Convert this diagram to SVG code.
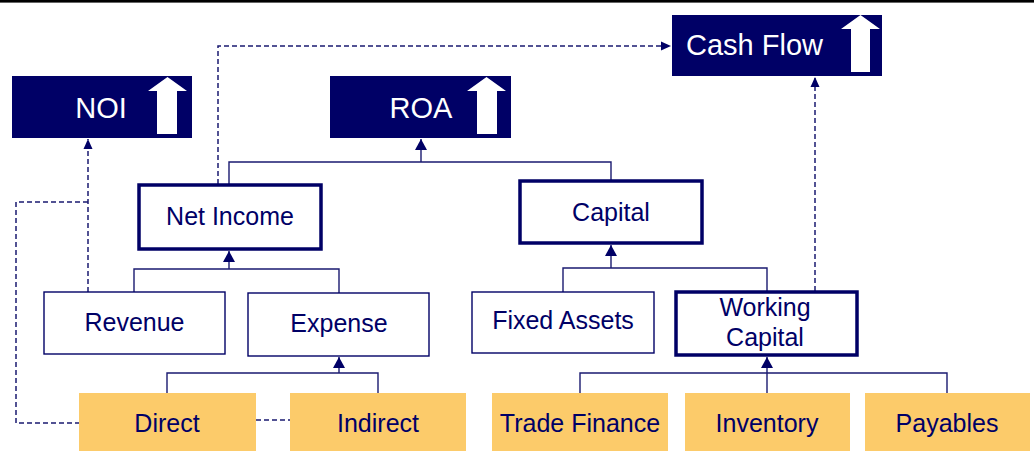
<svg xmlns="http://www.w3.org/2000/svg" width="1034" height="451" viewBox="0 0 1034 451">
<defs>
<style>
.dark{fill:#000066}
.dt{fill:#ffffff;font-family:"Liberation Sans",Arial,sans-serif;font-size:29px;text-anchor:middle}
.box{fill:#ffffff;stroke:#000066;stroke-width:1.4}
.thick{fill:#ffffff;stroke:#000066;stroke-width:3.5}
.org{fill:#fccb6a}
.t{fill:#000066;font-family:"Liberation Sans",Arial,sans-serif;font-size:25px;text-anchor:middle}
.ln{fill:none;stroke:#1a1a70;stroke-width:1.4}
.dash{fill:none;stroke:#1a1a70;stroke-width:1.5;stroke-dasharray:5 3}
.up{fill:#ffffff}
</style>
<marker id="ah" markerUnits="userSpaceOnUse" markerWidth="12" markerHeight="12" viewBox="0 0 12 12" refX="11" refY="6" orient="auto">
<path d="M0,0 L11,6 L0,12 Z" fill="#000066"/>
</marker>
<marker id="ahs" markerUnits="userSpaceOnUse" markerWidth="10" markerHeight="10" viewBox="0 0 10 10" refX="10" refY="5" orient="auto">
<path d="M0,0.5 L10,5 L0,9.5 Z" fill="#000066"/>
</marker>
</defs>
<rect x="0" y="0" width="1034" height="451" fill="#ffffff"/>
<rect x="0" y="0" width="1034" height="2.6" fill="#000000"/>

<g id="connectors">
<path class="ln" d="M229,184 V162 H611 V180"/>
<path class="ln" d="M421,162 V139" marker-end="url(#ah)"/>
<path class="ln" d="M134,292 V269 H339 V293"/>
<path class="ln" d="M229,269 V251" marker-end="url(#ah)"/>
<path class="ln" d="M167,393 V373 H378 V393"/>
<path class="ln" d="M339,373 V357" marker-end="url(#ah)"/>
<path class="ln" d="M563,292 V268 H767 V291"/>
<path class="ln" d="M611,268 V245" marker-end="url(#ah)"/>
<path class="ln" d="M580,393 V373 H947 V393"/>
<path class="ln" d="M767,393 V357" marker-end="url(#ah)"/>
<path class="dash" d="M218,184 V46 H671" marker-end="url(#ahs)"/>
<path class="dash" d="M815,291 V77" marker-end="url(#ahs)"/>
<path class="dash" d="M88,292 V139" marker-end="url(#ahs)"/>
<path class="dash" d="M80,423 H16 V202 H88"/>
<path class="dash" d="M256,420 H290"/>
</g>

<g id="noi">
<rect class="dark" x="12" y="76" width="180" height="62"/>
<text class="dt" x="101" y="118">NOI</text>
<polygon class="up" points="167.5,77 187,91 177,91 177,134 157,134 157,91 148,91"/>
</g>
<g id="roa">
<rect class="dark" x="330" y="76" width="181" height="62"/>
<text class="dt" x="421" y="118">ROA</text>
<polygon class="up" points="486.5,77 506,91 497,91 497,134 477,134 477,91 467,91"/>
</g>
<g id="cashflow">
<rect class="dark" x="672" y="15" width="210" height="61"/>
<text class="dt" x="686" y="55" style="text-anchor:start">Cash Flow</text>
<polygon class="up" points="860.5,15 880,29 870,29 870,72 851,72 851,29 841,29"/>
</g>

<g id="netincome">
<rect class="thick" x="139" y="185" width="182" height="64"/>
<text class="t" x="230" y="225">Net Income</text>
</g>
<g id="capital">
<rect class="thick" x="520" y="181" width="182" height="62"/>
<text class="t" x="611" y="221">Capital</text>
</g>

<g id="revenue">
<rect class="box" x="44" y="292" width="181" height="62"/>
<text class="t" x="134.5" y="331">Revenue</text>
</g>
<g id="expense">
<rect class="box" x="248" y="293" width="181" height="63"/>
<text class="t" x="339" y="332">Expense</text>
</g>
<g id="fixedassets">
<rect class="box" x="472" y="292" width="182" height="61"/>
<text class="t" x="563" y="329">Fixed Assets</text>
</g>
<g id="workingcapital">
<rect class="thick" x="676" y="292" width="181" height="63"/>
<text class="t" x="765" y="316">Working</text>
<text class="t" x="765" y="346">Capital</text>
</g>

<g id="direct">
<rect class="org" x="79" y="393" width="177" height="58"/>
<text class="t" x="167" y="432">Direct</text>
</g>
<g id="indirect">
<rect class="org" x="290" y="393" width="176" height="58"/>
<text class="t" x="378" y="432">Indirect</text>
</g>
<g id="tradefinance">
<rect class="org" x="492" y="393" width="176" height="58"/>
<text class="t" x="580" y="432">Trade Finance</text>
</g>
<g id="inventory">
<rect class="org" x="685" y="393" width="165" height="58"/>
<text class="t" x="767" y="432">Inventory</text>
</g>
<g id="payables">
<rect class="org" x="865" y="393" width="165" height="58"/>
<text class="t" x="947" y="432">Payables</text>
</g>
</svg>
